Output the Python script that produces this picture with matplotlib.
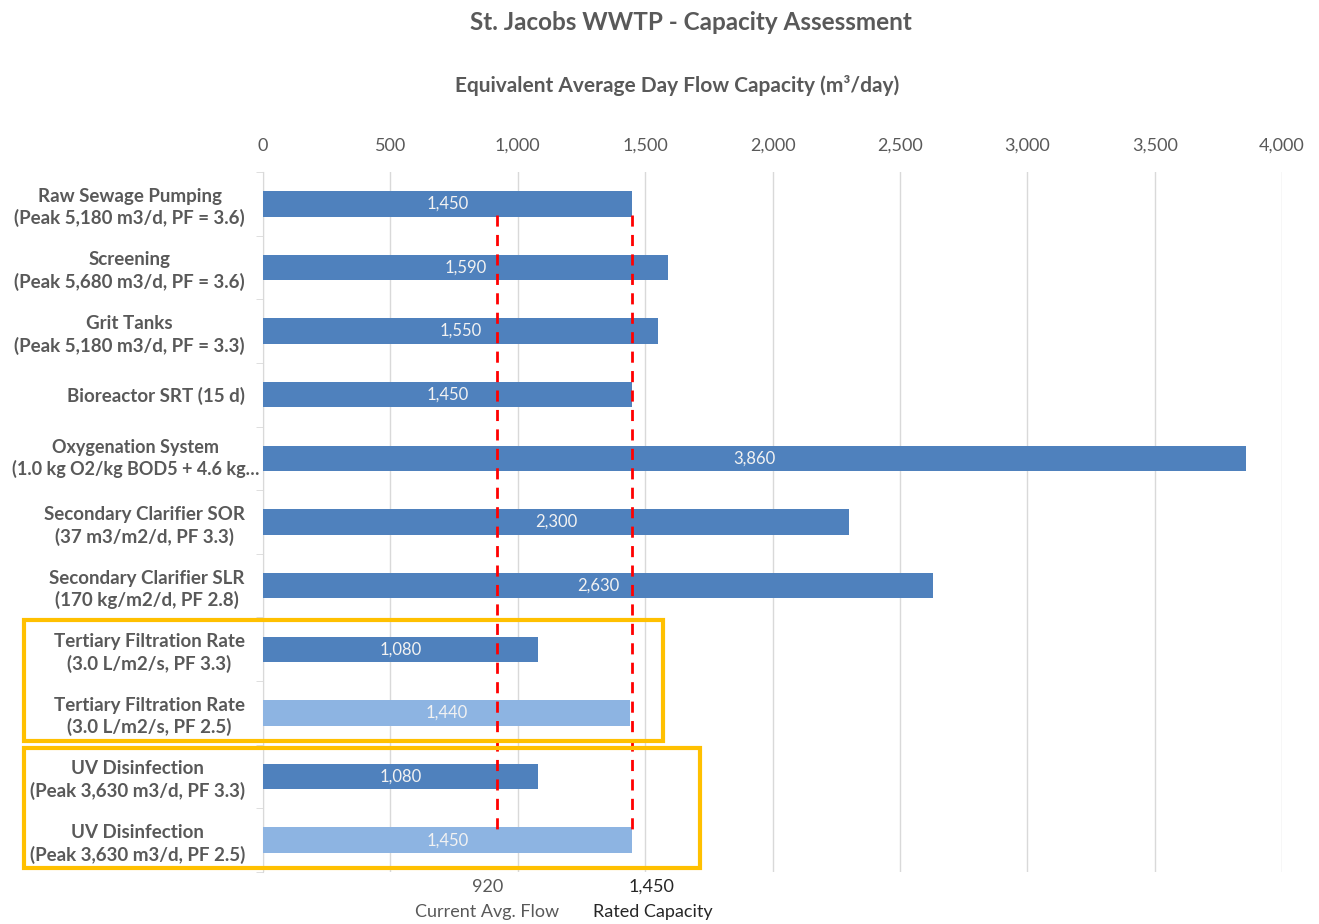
import numpy as np
import matplotlib.pyplot as plt
from matplotlib.patches import Rectangle
from matplotlib.ticker import FuncFormatter
from matplotlib.transforms import blended_transform_factory

plt.rcParams['font.family'] = ['Lato', 'DejaVu Sans']

# process units, top to bottom
processes = [
    'Raw Sewage Pumping\n(Peak 5,180 m3/d, PF = 3.6)',
    'Screening\n(Peak 5,680 m3/d, PF = 3.6)',
    'Grit Tanks\n(Peak 5,180 m3/d, PF = 3.3)',
    'Bioreactor SRT (15 d)',
    'Oxygenation System\n(1.0 kg O2/kg BOD5 + 4.6 kg\u2026',
    'Secondary Clarifier SOR\n(37 m3/m2/d, PF 3.3)',
    'Secondary Clarifier SLR\n(170 kg/m2/d, PF 2.8)',
    'Tertiary Filtration Rate\n(3.0 L/m2/s, PF 3.3)',
    'Tertiary Filtration Rate\n(3.0 L/m2/s, PF 2.5)',
    'UV Disinfection\n(Peak 3,630 m3/d, PF 3.3)',
    'UV Disinfection\n(Peak 3,630 m3/d, PF 2.5)',
]
capacity = [1450, 1590, 1550, 1450, 3860, 2300, 2630, 1080, 1440, 1080, 1450]
reduced_pf = [False] * 8 + [True, False, True]

current_flow = 920
rated_capacity = 1450

grey = '#595959'
dark_blue = '#4F81BD'
light_blue = '#8DB4E2'

fig = plt.figure(figsize=(13.19, 9.24), dpi=100)
ax = fig.add_axes([0.1994, 0.0563, 0.7726, 0.7576])

y = np.arange(len(processes))
colors = [light_blue if r else dark_blue for r in reduced_pf]
bars = ax.barh(y, capacity, height=0.4, color=colors, zorder=3)

for yi, v in zip(y, capacity):
    ax.text(v / 2, yi, f'{v:,}', ha='center', va='center', color='#F2F2F2',
            fontsize=12, zorder=5)

ax.set_ylim(len(processes) - 0.5, -0.5)
ax.set_xlim(0, 4000)

# red reference lines
for xv in (current_flow, rated_capacity):
    ax.vlines(xv, 0.18, len(processes) - 1.18, colors='#FF0000', linestyles=(0, (4, 3)),
              linewidth=2, zorder=4)

ax.xaxis.tick_top()
ax.set_xticks(np.arange(0, 4001, 500))
ax.xaxis.set_major_formatter(FuncFormatter(lambda v, p: f'{int(v):,}'))
ax.tick_params(axis='x', length=0, pad=13, labelsize=13, labelcolor=grey)
ax.grid(axis='x', color='#D9D9D9', linewidth=1, zorder=0)

# the long oxygenation label is written separately so it can run closer to the axis
tick_labels = list(processes)
tick_labels[4] = ''
ax.set_yticks(y)
ax.set_yticklabels(tick_labels, fontsize=13.5, fontweight='bold', color=grey,
                   ha='right', multialignment='center', linespacing=1.3)
ax.tick_params(axis='y', length=0, pad=13)
ax.set_yticks(np.arange(-0.5, len(processes)), minor=True)
ax.tick_params(axis='y', which='minor', length=5, color='#D9D9D9')

label_trans = blended_transform_factory(fig.transFigure, ax.transData)
ax.text(259 / 1319, 4, processes[4], transform=label_trans, ha='right', va='center',
        multialignment='center', linespacing=1.3, fontsize=13, fontweight='bold',
        color=grey)

for s in ['top', 'right', 'bottom']:
    ax.spines[s].set_visible(False)
ax.spines['left'].set_color('#D9D9D9')

fig.text(0.5235, 0.976, 'St. Jacobs WWTP - Capacity Assessment', ha='center', va='center',
         fontsize=17.5, fontweight='bold', color=grey)
fig.text(0.5135, 0.908, 'Equivalent Average Day Flow Capacity (m\u00b3/day)', ha='center',
         va='center', fontsize=15, fontweight='bold', color=grey)

# reference values under the axis
trans = blended_transform_factory(ax.transData, fig.transFigure)
ax.text(current_flow - 40, 1 - 887 / 924, f'{current_flow:,}', transform=trans,
        ha='center', va='center', fontsize=13, color=grey)
ax.text(current_flow - 40, 1 - 912 / 924, 'Current Avg. Flow', transform=trans,
        ha='center', va='center', fontsize=13, color=grey)
ax.text(rated_capacity + 75, 1 - 887 / 924, f'{rated_capacity:,}', transform=trans,
        ha='center', va='center', fontsize=13, color='#262626')
ax.text(rated_capacity + 80, 1 - 912 / 924, 'Rated Capacity', transform=trans,
        ha='center', va='center', fontsize=13, color='#262626')

# highlight boxes around the tertiary filtration and UV rows
for x0, y0, x1, y1 in [(24, 620, 663, 741), (24, 748, 700, 868)]:
    fig.patches.append(Rectangle((x0 / 1319, 1 - y1 / 924), (x1 - x0) / 1319,
                                 (y1 - y0) / 924, transform=fig.transFigure,
                                 fill=False, edgecolor='#FFC000', linewidth=3, zorder=10))

fig.savefig('out.png', dpi=100)
